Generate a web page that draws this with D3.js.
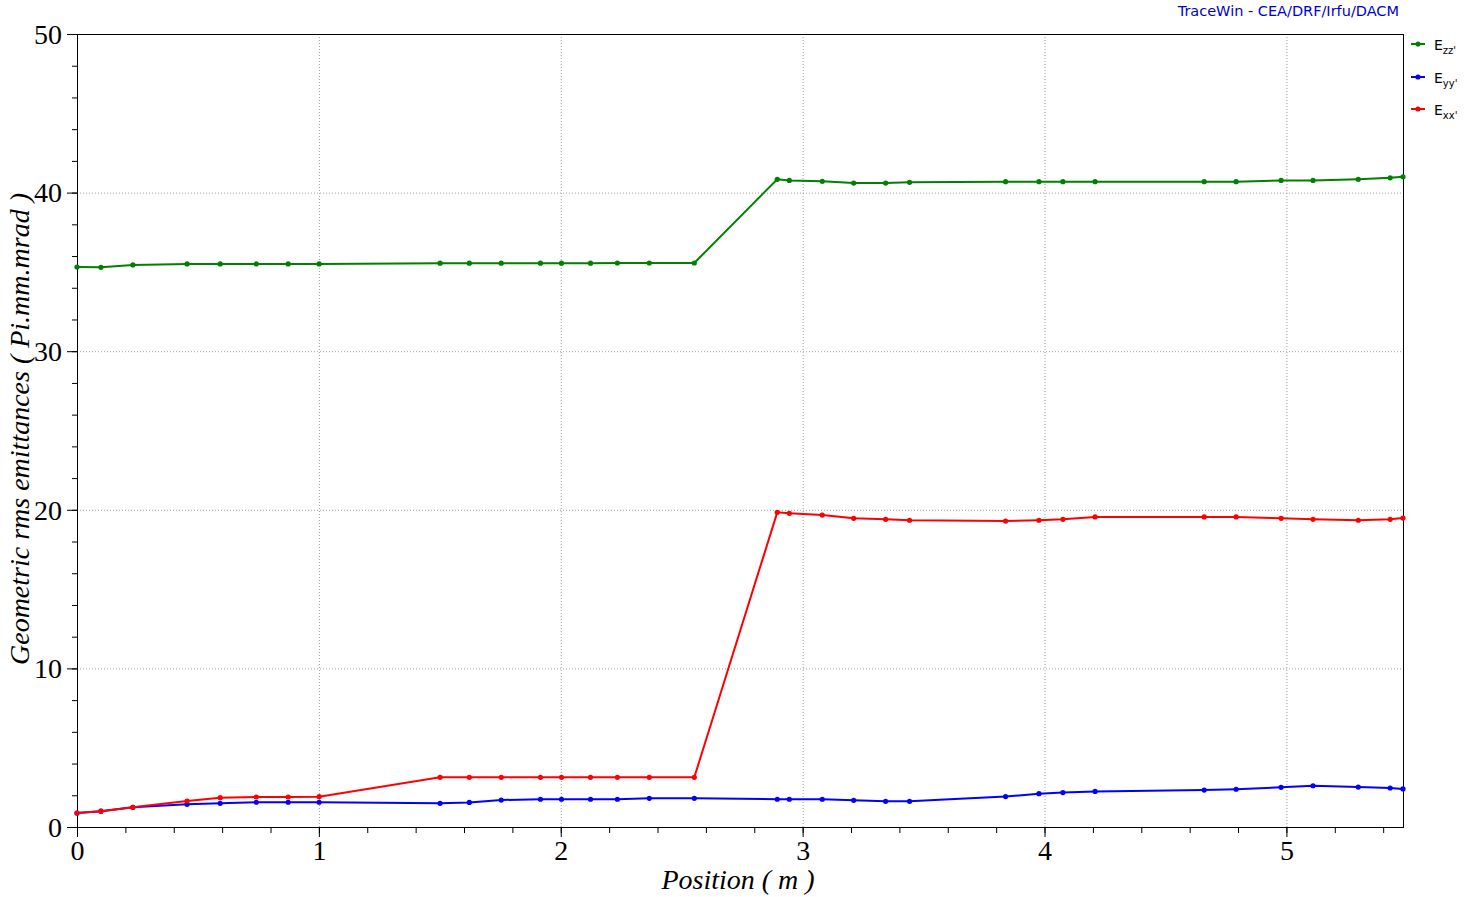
<!DOCTYPE html>
<html><head><meta charset="utf-8">
<script src="https://cdn.jsdelivr.net/npm/d3@7"></script>
<style>body{margin:0;background:#fff;} svg{display:block;}</style>
</head><body>
<script>
const positions = [0.0, 0.099, 0.231, 0.455, 0.592, 0.741, 0.873, 1.001, 1.501, 1.622, 1.754, 1.916, 2.003, 2.123, 2.234, 2.366, 2.552, 2.895, 2.945, 3.081, 3.211, 3.343, 3.442, 3.839, 3.977, 4.076, 4.209, 4.660, 4.792, 4.978, 5.110, 5.297, 5.429, 5.482];
const ezz = [35.31, 35.29, 35.44, 35.5, 35.5, 35.5, 35.5, 35.5, 35.55, 35.55, 35.55, 35.55, 35.55, 35.55, 35.56, 35.56, 35.56, 40.84, 40.77, 40.71, 40.6, 40.6, 40.65, 40.69, 40.69, 40.69, 40.69, 40.69, 40.69, 40.77, 40.77, 40.84, 40.93, 41.0];
const eyy = [0.88, 1.0, 1.24, 1.43, 1.49, 1.56, 1.56, 1.56, 1.49, 1.55, 1.7, 1.75, 1.75, 1.75, 1.75, 1.81, 1.81, 1.75, 1.75, 1.75, 1.68, 1.62, 1.62, 1.92, 2.1, 2.17, 2.24, 2.33, 2.38, 2.5, 2.6, 2.52, 2.46, 2.4];
const exx = [0.88, 1.0, 1.24, 1.64, 1.85, 1.89, 1.89, 1.91, 3.13, 3.13, 3.13, 3.13, 3.13, 3.13, 3.13, 3.13, 3.13, 19.84, 19.78, 19.67, 19.46, 19.4, 19.34, 19.29, 19.34, 19.4, 19.55, 19.55, 19.55, 19.46, 19.4, 19.34, 19.4, 19.48];
const xTicks = [0, 1, 2, 3, 4, 5];
const yTicks = [0, 10, 20, 30, 40, 50];
const seriesNames = ["zz'", "yy'", "xx'"];
const seriesColors = ["#008000", "#0000ff", "#ff0000"];

const W = 1465, H = 897;
const L = 77, R = 1403, T = 34, B = 827;
const svg = d3.select("body").append("svg").attr("width", W).attr("height", H);
const x = d3.scaleLinear().domain([0, 5.482]).range([L, R]);
const y = d3.scaleLinear().domain([0, 50]).range([B, T]);

// grid
const g = svg.append("g");
g.selectAll("line.vx").data(xTicks.filter(d => d > 0)).enter().append("line")
  .attr("x1", d => x(d) + 0.5).attr("x2", d => x(d) + 0.5).attr("y1", T).attr("y2", B)
  .attr("stroke", "#a0a0a0").attr("stroke-dasharray", "1,2");
g.selectAll("line.hy").data(yTicks.filter(d => d > 0 && d < 50)).enter().append("line")
  .attr("y1", d => y(d) + 0.5).attr("y2", d => y(d) + 0.5).attr("x1", L).attr("x2", R)
  .attr("stroke", "#a0a0a0").attr("stroke-dasharray", "1,2");

// frame
svg.append("rect").attr("x", L + 0.5).attr("y", T + 0.5).attr("width", R - L).attr("height", B - T)
  .attr("fill", "none").attr("stroke", "#000").attr("stroke-width", 1);

// axes
const xAxis = d3.axisBottom(x).tickValues(xTicks).tickSize(9).tickFormat(d3.format("d"));
const xMinor = d3.axisBottom(x).tickValues(d3.range(0, 5.49, 0.2)).tickSize(5).tickFormat("");
const yAxis = d3.axisLeft(y).tickValues(yTicks).tickSize(10).tickFormat(d3.format("d"));
const yMinor = d3.axisLeft(y).tickValues(d3.range(0, 50.01, 2)).tickSize(5).tickFormat("");
function styleAx(sel) {
  sel.select(".domain").remove();
  sel.selectAll("line").attr("stroke", "#000");
  sel.selectAll("text").attr("fill", "#000").attr("font-family", "'Liberation Serif', serif").attr("font-size", 28);
}
svg.append("g").attr("transform", `translate(0,${B + 1})`).call(xMinor).call(styleAx);
svg.append("g").attr("transform", `translate(0,${B + 1})`).call(xAxis).call(styleAx)
  .selectAll("text").attr("y", 32).attr("dy", 0);
svg.append("g").attr("transform", `translate(${L},0)`).call(yMinor).call(styleAx);
svg.append("g").attr("transform", `translate(${L},0)`).call(yAxis).call(styleAx)
  .selectAll("text").attr("x", -15).attr("dy", "0.33em");

// series
const data = [ezz, eyy, exx];
const line = d3.line().x((d, i) => x(positions[i])).y(d => y(d));
data.forEach((vals, k) => {
  svg.append("path").datum(vals).attr("d", line).attr("fill", "none")
    .attr("stroke", seriesColors[k]).attr("stroke-width", 2);
  svg.append("g").selectAll("circle").data(vals).enter().append("circle")
    .attr("cx", (d, i) => x(positions[i])).attr("cy", d => y(d)).attr("r", 2.6)
    .attr("fill", seriesColors[k]);
});

// titles
svg.append("text").attr("x", 738).attr("y", 889).attr("text-anchor", "middle")
  .attr("font-family", "'Liberation Serif', serif").attr("font-style", "italic").attr("font-size", 28)
  .text("Position ( m )");
svg.append("text").attr("transform", "translate(29,429) rotate(-90)").attr("text-anchor", "middle")
  .attr("font-family", "'Liberation Serif', serif").attr("font-style", "italic").attr("font-size", 28)
  .text("Geometric rms emittances ( Pi.mm.mrad )");
svg.append("text").attr("x", 1399).attr("y", 16).attr("text-anchor", "end")
  .attr("font-family", "'DejaVu Sans', sans-serif").attr("font-size", 14.5).attr("fill", "#0000cc")
  .text("TraceWin - CEA/DRF/Irfu/DACM");

// legend
const legY = [44, 77, 109];
seriesNames.forEach((n, k) => {
  const lg = svg.append("g").attr("transform", `translate(0,${legY[k]})`);
  lg.append("line").attr("x1", 1411).attr("x2", 1425).attr("y1", 0).attr("y2", 0)
    .attr("stroke", seriesColors[k]).attr("stroke-width", 2);
  lg.append("circle").attr("cx", 1418).attr("cy", 0).attr("r", 2.6).attr("fill", seriesColors[k]);
  const t = lg.append("text").attr("x", 1434).attr("y", 6)
    .attr("font-family", "'DejaVu Sans', sans-serif").attr("font-size", 14).attr("fill", "#000");
  t.append("tspan").text("E");
  t.append("tspan").attr("dy", 4).attr("font-size", 10).text(n);
});
</script>
</body></html>
